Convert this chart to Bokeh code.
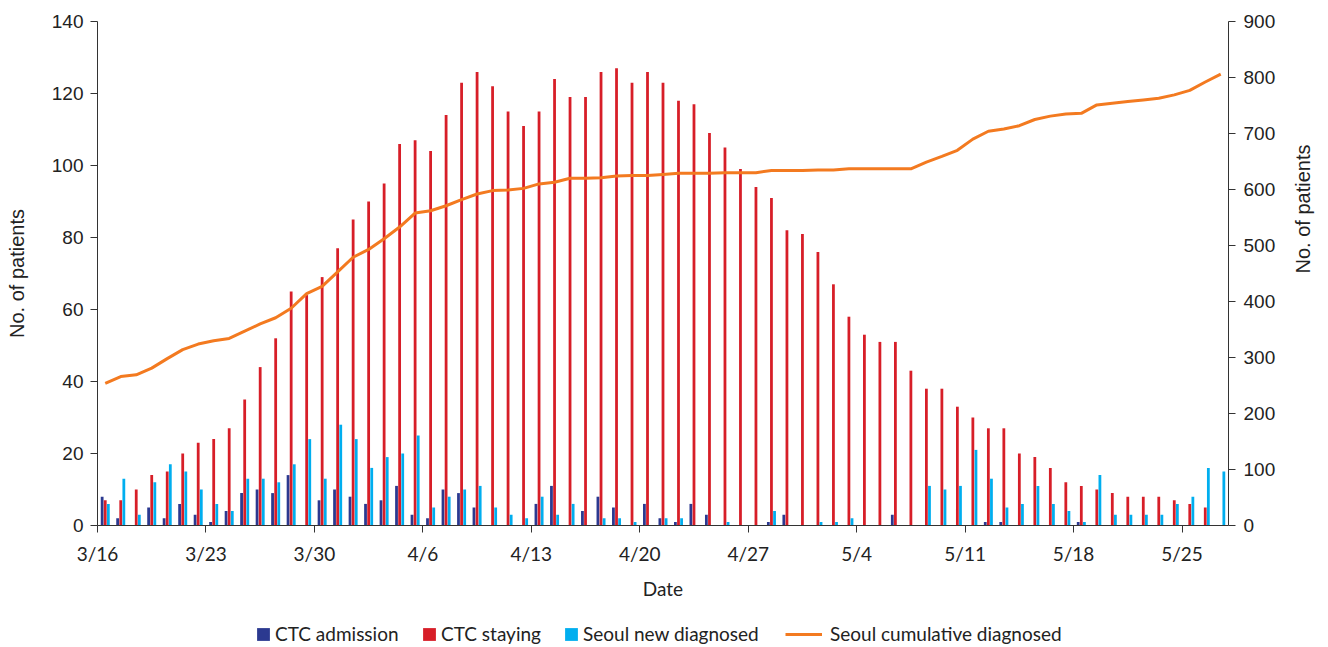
import numpy as np
from bokeh.plotting import figure
from bokeh.layouts import column
from bokeh.models import Range1d, LinearAxis, FixedTicker, Legend, LegendItem
from bokeh.embed import file_html
from bokeh.resources import INLINE

tick_labels = ["3/16", "3/23", "3/30", "4/6", "4/13", "4/20", "4/27", "5/4", "5/11", "5/18", "5/25"]

ctc_admission = [8, 2, 0, 5, 2, 6, 3, 1, 4, 9, 10, 9, 14, 0, 7, 10, 8, 6, 7, 11,
                 3, 2, 10, 9, 5, 0, 0, 0, 6, 11, 0, 4, 8, 5, 0, 6, 2, 1, 6, 3,
                 0, 0, 0, 1, 3, 0, 0, 0, 0, 0, 0, 3, 0, 0, 0, 0, 0, 1, 1, 0,
                 0, 0, 0, 1, 0, 0, 0, 0, 0, 0, 0, 0, 0]
ctc_staying = [7, 7, 10, 14, 15, 20, 23, 24, 27, 35, 44, 52, 65, 64, 69, 77, 85, 90, 95, 106,
               107, 104, 114, 123, 126, 122, 115, 111, 115, 124, 119, 119, 126, 127, 123, 126, 123, 118, 117, 109,
               105, 99, 94, 91, 82, 81, 76, 67, 58, 53, 51, 51, 43, 38, 38, 33, 30, 27, 27, 20,
               19, 16, 12, 11, 10, 9, 8, 8, 8, 7, 6, 5, 0]
seoul_new = [6, 13, 3, 12, 17, 15, 10, 6, 4, 13, 13, 12, 17, 24, 13, 28, 24, 16, 19, 20,
             25, 5, 8, 10, 11, 5, 3, 2, 8, 3, 6, 0, 2, 2, 1, 0, 2, 2, 0, 0,
             1, 0, 0, 4, 0, 0, 1, 1, 2, 0, 0, 0, 0, 11, 10, 11, 21, 13, 5, 6,
             11, 6, 4, 1, 14, 3, 3, 3, 3, 6, 8, 16, 15]
seoul_cum = [254, 266, 269, 281, 298, 314, 324, 330, 334, 347, 360, 371, 388, 414, 427, 453, 479, 493, 512, 533,
             558, 562, 571, 582, 592, 598, 599, 602, 610, 613, 620, 620, 621, 624, 625, 625, 627, 629, 629, 629,
             630, 630, 630, 634, 634, 634, 635, 635, 637, 637, 637, 637, 637, 649, 659, 670, 690, 704, 708, 714,
             725, 731, 735, 736, 751, 754, 757, 760, 763, 769, 777, 792, 806]

series_names = ["CTC admission", "CTC staying", "Seoul new diagnosed", "Seoul cumulative diagnosed"]

n = len(ctc_staying)
x = np.arange(n) + 0.5

C_ADM = "#2b3990"
C_STAY = "#d71e28"
C_NEW = "#00aeef"
C_CUM = "#f37a20"
TXT = "#222222"
AX = "#333333"

p = figure(width=1328, height=607, output_backend="svg", toolbar_location=None,
           x_range=Range1d(0, n), y_range=Range1d(0, 140),
           min_border_left=97, min_border_right=99, min_border_top=21, min_border_bottom=82)
p.outline_line_color = None
p.xgrid.visible = False
p.ygrid.visible = False

p.extra_y_ranges = {"cum": Range1d(0, 900)}

bw = 0.18
p.vbar(x=x - 0.2, top=ctc_admission, width=bw, bottom=0, fill_color=C_ADM, line_color=None)
p.vbar(x=x, top=ctc_staying, width=bw, bottom=0, fill_color=C_STAY, line_color=None)
p.vbar(x=x + 0.2, top=seoul_new, width=bw, bottom=0, fill_color=C_NEW, line_color=None)
p.line(x=x, y=seoul_cum, y_range_name="cum", line_color=C_CUM, line_width=3)

tick_pos = [7 * i for i in range(len(tick_labels))]
xa = p.xaxis[0]
xa.ticker = FixedTicker(ticks=tick_pos)
xa.major_label_overrides = {t: l for t, l in zip(tick_pos, tick_labels)}
xa.minor_tick_line_color = None
xa.major_tick_in = 0
xa.major_tick_out = 7
xa.major_label_standoff = 9
xa.axis_label = "Date"
xa.axis_label_standoff = 9
xa.axis_label_text_font = "Lato"
xa.axis_label_text_font_style = "normal"
xa.axis_label_text_font_size = "19px"
xa.major_label_text_font = "Lato"
xa.major_label_text_font_size = "19px"
xa.axis_line_color = AX
xa.major_tick_line_color = AX
xa.major_label_text_color = TXT
xa.axis_label_text_color = TXT

ya = p.yaxis[0]
ya.ticker = FixedTicker(ticks=list(range(0, 141, 20)))
ya.minor_tick_line_color = None
ya.major_tick_in = 0
ya.major_tick_out = 7
ya.major_label_standoff = 7
ya.axis_label = "No. of patients"
ya.axis_label_standoff = 21
ya.axis_label_text_font = "Liberation Sans"
ya.axis_label_text_font_style = "normal"
ya.axis_label_text_font_size = "20px"
ya.major_label_text_font = "Liberation Sans"
ya.major_label_text_font_size = "19px"
ya.axis_line_color = AX
ya.major_tick_line_color = AX
ya.major_label_text_color = TXT
ya.axis_label_text_color = TXT

ra = LinearAxis(y_range_name="cum", ticker=FixedTicker(ticks=list(range(0, 901, 100))))
ra.minor_tick_line_color = None
ra.major_tick_in = 0
ra.major_tick_out = 7
ra.major_label_standoff = 8
ra.major_label_text_font = "Liberation Sans"
ra.major_label_text_font_size = "19px"
ra.axis_line_color = AX
ra.major_tick_line_color = AX
ra.major_label_text_color = TXT
ra.axis_label = "No. of patients"
ra.axis_label_standoff = 25
ra.axis_label_text_font = "Liberation Sans"
ra.axis_label_text_font_style = "normal"
ra.axis_label_text_font_size = "20px"
ra.axis_label_text_color = TXT
if "axis_label_orientation" in LinearAxis.properties():
    ra.axis_label_orientation = np.pi / 2
p.add_layout(ra, "right")

# legend strip below the chart (its frame is aligned with the chart frame)
lf = figure(width=1328, height=40, output_backend="svg", toolbar_location=None,
            x_range=Range1d(0, 1), y_range=Range1d(0, 1),
            x_axis_type=None, y_axis_type=None, min_border=0)
lf.outline_line_color = None
lf.xgrid.visible = False
lf.ygrid.visible = False
nan = [float("nan")]
# swatch-only renderers (no visible marks)
d1 = lf.quad(left=nan, right=nan, top=nan, bottom=nan, fill_color=C_ADM, line_color=None)
d2 = lf.quad(left=nan, right=nan, top=nan, bottom=nan, fill_color=C_STAY, line_color=None)
d3 = lf.quad(left=nan, right=nan, top=nan, bottom=nan, fill_color=C_NEW, line_color=None)
d4 = lf.line(x=nan, y=nan, line_color=C_CUM, line_width=3)

leg_x = [158, 324, 466, 688]
for rend, name, lx in zip([d1, d2, d3, d4], series_names, leg_x):
    is_line = rend is d4
    lg = Legend(items=[LegendItem(label=name, renderers=[rend])],
                location=(lx, 2), orientation="horizontal",
                glyph_width=37 if is_line else 16, glyph_height=16,
                label_standoff=8 if is_line else 4, label_height=20,
                padding=0, margin=0, border_line_color=None, background_fill_alpha=0,
                label_text_font="Lato", label_text_font_size="19px",
                label_text_color=TXT)
    lf.add_layout(lg, "center")

layout = column(p, lf, spacing=0)
open("out.html", "w").write(file_html(layout, INLINE))
